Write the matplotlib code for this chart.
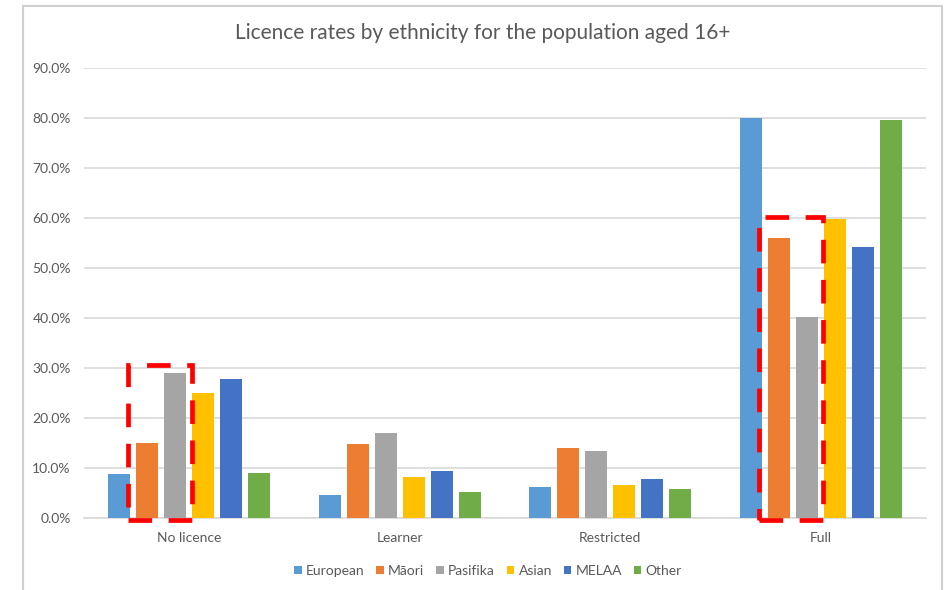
import matplotlib
matplotlib.use("Agg")
import matplotlib.pyplot as plt
from matplotlib.patches import Rectangle
from matplotlib.ticker import PercentFormatter
import numpy as np

categories = ["No licence", "Learner", "Restricted", "Full"]
groups = ["European", "Māori", "Pasifika", "Asian", "MELAA", "Other"]
colors = ["#5B9BD5", "#ED7D31", "#A5A5A5", "#FFC000", "#4472C4", "#70AD47"]

# licence rate (%) per ethnic group, one entry per category
european = [8.8, 4.7, 6.2, 80.0]
maori = [15.0, 14.8, 14.1, 56.0]
pasifika = [29.0, 17.0, 13.4, 40.2]
asian = [25.1, 8.3, 6.6, 59.8]
melaa = [27.9, 9.5, 7.9, 54.3]
other = [9.0, 5.3, 5.9, 79.7]
series = [european, maori, pasifika, asian, melaa, other]

# highlighted boxes: (category index, first group, last group, top %)
highlights = [(0, 1, 2, 30.7), (3, 1, 2, 60.2)]

txt = "#595959"
grid = "#D9D9D9"
plt.rcParams["font.family"] = ["Lato", "DejaVu Sans"]

fig = plt.figure(figsize=(9.47, 5.9), dpi=100)
ax = fig.add_axes([84 / 947, 71.7 / 590, 842 / 947, 450 / 590])

x = np.arange(len(categories))
pitch = 0.133
width = 0.105
for i, (name, vals) in enumerate(zip(groups, series)):
    ax.bar(x + (i - 2.5) * pitch, vals, width, color=colors[i], label=name, zorder=3)

ax.set_xlim(-0.5, 3.5)
ax.set_ylim(0, 90)
ax.set_yticks(np.arange(0, 91, 10))
ax.yaxis.set_major_formatter(PercentFormatter(decimals=1))
ax.set_xticks(x)
ax.set_xticklabels(categories)
ax.tick_params(axis="both", length=0, colors=txt, labelsize=10)
ax.tick_params(axis="y", pad=9.5)
ax.tick_params(axis="x", pad=10)
ax.grid(axis="y", color=grid, lw=1.2, zorder=0)
for s in ["left", "right", "top"]:
    ax.spines[s].set_visible(False)
ax.spines["bottom"].set_color(grid)
ax.spines["bottom"].set_linewidth(1.2)

fig.text(483 / 947, 1 - 33 / 590, "Licence rates by ethnicity for the population aged 16+",
         fontsize=15, color=txt, ha="center", va="center")

# red dashed boxes around the highlighted bars
for cat, g0, g1, top in highlights:
    left = cat + (g0 - 2.5) * pitch - width / 2 - 0.04
    right = cat + (g1 - 2.5) * pitch + width / 2 + 0.025
    ax.add_patch(Rectangle((left, -0.4), right - left, top + 0.4, fill=False,
                           ec="#FF0000", lw=3.4, ls=(0, (5, 3.5)),
                           zorder=5, clip_on=False))

ax.legend(loc="center", bbox_to_anchor=(488 / 947, 19 / 590),
          bbox_transform=fig.transFigure, ncol=6, frameon=False,
          fontsize=10, labelcolor=txt, handlelength=0.55, handleheight=0.55,
          handletextpad=0.3, columnspacing=0.85)

# chart border
fig.add_artist(Rectangle((23 / 947, -0.02), 919 / 947, 1.02 - 6 / 590,
                         transform=fig.transFigure, fill=False,
                         ec="#D0D0D0", lw=1.5))

fig.savefig("out.png", dpi=100)
